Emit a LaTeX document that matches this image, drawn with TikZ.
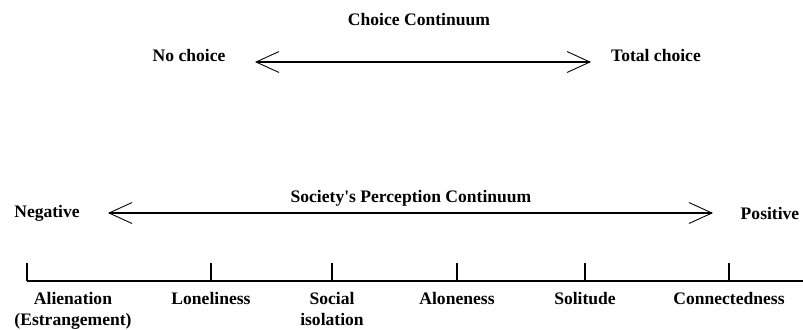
\documentclass[tikz,border=0pt]{standalone}
\usepackage{fontspec}
\setmainfont{Liberation Serif}
\newfontfamily\plainapos{Liberation Serif}[Ligatures=TeXOff]
\usetikzlibrary{arrows.meta}
\tikzset{
  lbl/.style={font=\bfseries\normalsize, inner sep=1pt, align=center},
  cont/.style={line width=0.8pt, {Straight Barb[length=0.46cm,width=0.42cm,line width=0.5pt]}-{Straight Barb[length=0.46cm,width=0.42cm,line width=0.5pt]}},
  tick/.style={line width=0.6pt}
}
\begin{document}
\begin{tikzpicture}[x=0.02cm,y=-0.02cm]
\useasboundingbox (0,0) rectangle (803,329);
% choice continuum
\node[lbl] (chtitle) at (419,20) {Choice Continuum};
\node[lbl] (nochoice) at (189,55) {No choice};
\node[lbl] (totchoice) at (656,55) {Total choice};
\coordinate (c1) at (255,62);
\coordinate (c2) at (591,62);
\path[draw,cont] (c1) -- (c2);

% perception continuum
\node[lbl] (sptitle) at (411,198) {Society{\plainapos\bfseries '}s Perception Continuum};
\node[lbl] (neg) at (47,213) {Negative};
\node[lbl] (pos) at (770,213) {Positive};
\coordinate (p1) at (108,213);
\coordinate (p2) at (713,213);
\path[draw,cont] (p1) -- (p2);

% scale
\coordinate (s0) at (27,281);
\coordinate (s1) at (803,281);
\path[draw,tick] (s0) -- (s1);
\foreach \x/\n in {27/t1,211/t2,332/t3,457/t4,585/t5,729/t6}{
  \coordinate (\n) at (\x,281);
  \path[draw,tick] (\n) -- ++(0,-18);
}
\node[lbl,anchor=north] (alien) at (73,290) {Alienation\\(Estrangement)};
\node[lbl,anchor=north] (lone) at (211,290) {Loneliness};
\node[lbl,anchor=north] (social) at (332,290) {Social\\isolation};
\node[lbl,anchor=north] (alone) at (457,290) {Aloneness};
\node[lbl,anchor=north] (solit) at (585,290) {Solitude};
\node[lbl,anchor=north] (conn) at (729,290) {Connectedness};
\end{tikzpicture}
\end{document}
